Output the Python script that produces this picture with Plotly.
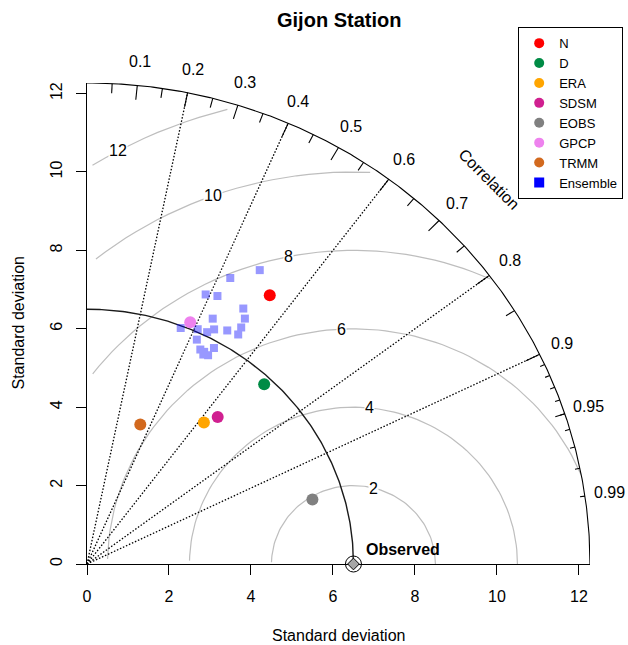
import numpy as np
import plotly.graph_objects as go

# ---------------- data ----------------
title = "Gijon Station"
model_names = ["N", "D", "ERA", "SDSM", "EOBS", "GPCP", "TRMM"]
model_sd = [8.18, 6.30, 4.60, 4.92, 5.74, 6.66, 3.79]
model_corr = [0.545, 0.686, 0.620, 0.648, 0.958, 0.378, 0.343]
model_colors = ["#FF0000", "#008B45", "#FFA500", "#D02090", "#808080", "#EE82EE", "#D2691E"]

ens_sd = [8.09, 8.60, 7.46, 7.54, 7.55, 7.35, 6.97, 6.44, 6.57, 6.60,
          6.74, 6.87, 7.11, 6.92, 6.32, 6.32, 6.13, 6.12, 6.09, 6.05]
ens_corr = [0.432, 0.490, 0.388, 0.422, 0.505, 0.524, 0.440, 0.355, 0.411, 0.444,
            0.460, 0.498, 0.529, 0.533, 0.424, 0.490, 0.451, 0.467, 0.485, 0.469]
ens_color = "#0000FF"

obs_sd = 6.5
obs_label = "Observed"

sd_ticks = [0, 2, 4, 6, 8, 10, 12]
rms_levels = [2, 4, 6, 8, 10, 12]
corr_label_vals = [0.1, 0.2, 0.3, 0.4, 0.5, 0.6, 0.7, 0.8, 0.9, 0.95, 0.99]
corr_line_vals = [0.2, 0.4, 0.6, 0.8, 0.9]
big_tick_vals = [0.1, 0.2, 0.3, 0.4, 0.5, 0.6, 0.7, 0.8, 0.9]
med_tick_vals = [0.05, 0.15, 0.25, 0.35, 0.45, 0.55, 0.65, 0.75, 0.85, 0.95]
sml_tick_vals = [0.91, 0.92, 0.93, 0.94, 0.95, 0.96, 0.97, 0.98, 0.99]

maxray = 1.5 * max(model_sd)
FONT = "Liberation Sans, Arial, Helvetica, sans-serif"

def polar(sd, corr):
    sd = np.asarray(sd, float)
    corr = np.asarray(corr, float)
    return sd * corr, sd * np.sqrt(1 - corr ** 2)

fig = go.Figure()
annotations = []

# ---------------- RMS (gamma) curves ----------------
t = np.arange(0, np.pi, 0.03)
gx, gy = [], []
labelpos = np.linspace(44, 69, len(rms_levels)).round().astype(int)
for k, g in enumerate(rms_levels):
    xc = np.cos(t) * g + obs_sd
    yc = np.sin(t) * g
    neg = np.where(xc < 0)[0]
    end = neg[0] - 1 if len(neg) else len(t) - 1
    out = np.where(xc ** 2 + yc ** 2 > maxray ** 2)[0]
    start = out[-1] + 1 if len(out) else 0
    gx += list(xc[start:end + 1]) + [None]
    gy += list(yc[start:end + 1]) + [None]
    lp = labelpos[k]
    if xc[lp] > 0:
        annotations.append(dict(x=xc[lp] / maxray, y=yc[lp] / maxray, xref="paper", yref="paper",
                                text=str(g), showarrow=False, bgcolor="white", borderpad=0,
                                xanchor="center", yanchor="middle",
                                font=dict(size=16, color="black", family=FONT)))
fig.add_trace(go.Scatter(x=gx, y=gy, mode="lines", line=dict(color="#BEBEBE", width=1.2),
                         hoverinfo="skip", showlegend=False))

# ---------------- correlation dotted lines ----------------
lx, ly = [], []
for c in corr_line_vals:
    lx += [0, maxray * c, None]
    ly += [0, maxray * np.sqrt(1 - c ** 2), None]
fig.add_trace(go.Scatter(x=lx, y=ly, mode="lines",
                         line=dict(color="black", width=1.3, dash="1.5px,1.8px"),
                         hoverinfo="skip", showlegend=False))

# ---------------- outer arc and ticks ----------------
a = np.linspace(0, np.pi / 2, 300)
fig.add_trace(go.Scatter(x=maxray * np.cos(a), y=maxray * np.sin(a), mode="lines",
                         line=dict(color="black", width=1.1), hoverinfo="skip", showlegend=False))
tx, ty = [], []
for vals, frac in ((big_tick_vals, 0.97), (med_tick_vals, 0.98), (sml_tick_vals, 0.99)):
    for c in vals:
        s = np.sqrt(1 - c ** 2)
        tx += [maxray * c, frac * maxray * c, None]
        ty += [maxray * s, frac * maxray * s, None]
fig.add_trace(go.Scatter(x=tx, y=ty, mode="lines", line=dict(color="black", width=1.1),
                         hoverinfo="skip", showlegend=False))

# correlation labels (paper coords: axis ranges are [0, maxray])
for c in corr_label_vals:
    annotations.append(dict(x=1.05 * c, y=1.05 * np.sqrt(1 - c ** 2),
                            xref="paper", yref="paper", text=f"{c:g}", showarrow=False,
                            xanchor="center", yanchor="middle",
                            font=dict(size=16, color="black", family=FONT)))
annotations.append(dict(x=0.8, y=0.8, xref="paper", yref="paper", text="Correlation",
                        textangle=45, showarrow=False, xanchor="center", yanchor="middle",
                        font=dict(size=16, color="black", family=FONT)))

# ---------------- reference sd arc ----------------
a2 = np.linspace(0, np.pi / 2, 200)
fig.add_trace(go.Scatter(x=obs_sd * np.cos(a2), y=obs_sd * np.sin(a2), mode="lines",
                         line=dict(color="#1a1a1a", width=1.4), hoverinfo="skip", showlegend=False))

# ---------------- ensemble ----------------
ex, ey = polar(ens_sd, ens_corr)
fig.add_trace(go.Scatter(x=ex, y=ey, mode="markers", opacity=0.4,
                         marker=dict(symbol="square", size=8, color=ens_color, line=dict(width=0)),
                         showlegend=False, hoverinfo="skip"))

# ---------------- models ----------------
mx, my = polar(model_sd, model_corr)
fig.add_trace(go.Scatter(x=mx, y=my, mode="markers",
                         marker=dict(symbol="circle", size=12, color=model_colors, line=dict(width=0)),
                         showlegend=False, hoverinfo="skip"))

# ---------------- observed ----------------
fig.add_trace(go.Scatter(x=[obs_sd], y=[0], mode="markers", cliponaxis=False,
                         marker=dict(symbol="circle-open", size=16, color="black", line=dict(width=1)),
                         showlegend=False, hoverinfo="skip"))
fig.add_trace(go.Scatter(x=[obs_sd], y=[0], mode="markers", cliponaxis=False,
                         marker=dict(symbol="diamond", size=9, color="#A6A6A6",
                                     line=dict(width=1, color="black")),
                         showlegend=False, hoverinfo="skip"))
annotations.append(dict(x=obs_sd / maxray, y=0, xref="paper", yref="paper",
                        text="<b>" + obs_label + "</b>",
                        xanchor="left", yanchor="middle", xshift=11, yshift=15, showarrow=False,
                        font=dict(size=16, color="black", family=FONT)))

# ---------------- legend entries ----------------
for name, col in zip(model_names, model_colors):
    fig.add_trace(go.Scatter(x=[None], y=[None], mode="markers", name=name,
                             marker=dict(symbol="circle", size=10, color=col)))
fig.add_trace(go.Scatter(x=[None], y=[None], mode="markers", name="Ensemble",
                         marker=dict(symbol="square", size=10, color=ens_color)))

# ---------------- titles ----------------
annotations.append(dict(x=0.5, y=1, xref="paper", yref="paper", yshift=63, text="<b>" + title + "</b>",
                        xanchor="center", yanchor="middle",
                        showarrow=False, font=dict(size=20, color="black", family=FONT)))
annotations.append(dict(x=0.5, y=0, xref="paper", yref="paper", yshift=-71, text="Standard deviation",
                        xanchor="center", yanchor="middle",
                        showarrow=False, font=dict(size=16, color="black", family=FONT)))
annotations.append(dict(x=0, y=0.5, xref="paper", yref="paper", xshift=-69, text="Standard deviation",
                        xanchor="center", yanchor="middle",
                        textangle=-90, showarrow=False, font=dict(size=16, color="black", family=FONT)))

axis_common = dict(range=[0, maxray], showline=True, linecolor="black", linewidth=1,
                   ticks="outside", ticklen=10, tickwidth=1, tickcolor="black",
                   tickvals=sd_ticks, ticktext=[str(v) for v in sd_ticks],
                   showgrid=False, zeroline=False, layer="below traces",
                   tickfont=dict(size=16, color="black", family=FONT), automargin=False,
                   fixedrange=True)

fig.update_layout(
    width=628, height=645,
    margin=dict(l=87, r=38, t=83, b=81, autoexpand=False),
    paper_bgcolor="white", plot_bgcolor="white",
    font=dict(family=FONT, size=16, color="black"),
    xaxis=dict(**axis_common, ticklabelstandoff=8),
    yaxis=dict(**axis_common, tickangle=-90, ticklabelstandoff=8),
    annotations=annotations,
    showlegend=True,
    legend=dict(x=1.066, y=1.116, xref="paper", yref="paper", xanchor="right", yanchor="top",
                bordercolor="black", borderwidth=1, bgcolor="white",
                font=dict(size=13, color="black", family=FONT),
                itemwidth=30, tracegroupgap=0),
)

fig.write_html("out.html")
